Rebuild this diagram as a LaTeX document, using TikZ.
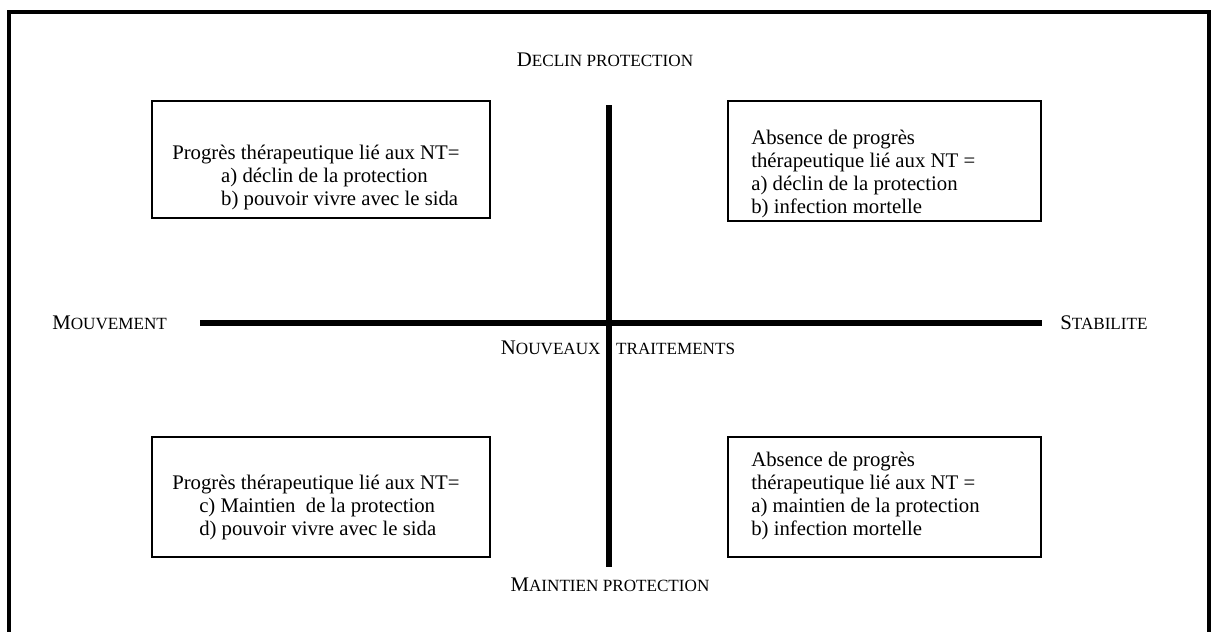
\documentclass[tikz,border=0pt]{standalone}
\usepackage{fontspec}
\setmainfont{Liberation Serif}
\usetikzlibrary{positioning}

\newcommand\lowcaps[1]{{\fontsize{9.9pt}{10pt}\selectfont #1}}

\begin{document}
\begin{tikzpicture}[x=0.578pt,y=-0.578pt,
  quad/.style={draw,line width=1.2pt,inner sep=0pt,minimum width=195.4pt},
  quadtext/.style={anchor=north west,align=left,inner sep=0pt,font=\fontsize{12pt}{13.2pt}\selectfont},
  axislabel/.style={inner sep=0pt,font=\fontsize{12pt}{13pt}\selectfont},
  axis/.style={line width=3.5pt}]
% Page
\useasboundingbox[fill=white] (0,0) rectangle (1212,631);
\draw[line width=2.3pt] (9,12) rectangle (1209,660);

% Locations
\def\Indent{\hspace*{28.3pt}}
\def\IndentLow{\hspace*{15.6pt}}

% Axes
\coordinate (West)  at (200,323);
\coordinate (East)  at (1042,323);
\coordinate (North) at (609,105);
\coordinate (South) at (609,567);
\draw[axis] (West) -- (East);
\draw[axis] (North) -- (South);

% Axis labels
\node[axislabel] (Declin) at (605,60) {D\lowcaps{ECLIN PROTECTION}};
\node[axislabel] (Maintien) at (610,585) {M\lowcaps{AINTIEN PROTECTION}};
\node[axislabel,anchor=west] (Mouvement) at (52,323) {M\lowcaps{OUVEMENT}};
\node[axislabel,anchor=west] (Stabilite) at (1060,323) {S\lowcaps{TABILITE}};
\node[axislabel] (NT) at (618,348) {N\lowcaps{OUVEAUX}\hspace{9pt}\lowcaps{TRAITEMENTS}};

% Quadrants
\node[quad,minimum height=67.6pt] (QuadNW) at (321,159.5) {};
\node[quad,minimum width=180.9pt,minimum height=69.4pt] (QuadNE) at (884.5,161) {};
\node[quad,minimum height=69.4pt] (QuadSW) at (321,497) {};
\node[quad,minimum width=180.9pt,minimum height=69.4pt] (QuadSE) at (884.5,497) {};

\node[quadtext] (TextNW) at ([shift={(21,45)}]QuadNW.north west)
  {Progrès thérapeutique lié aux NT=\\\Indent a) déclin de la protection\\\Indent b) pouvoir vivre avec le sida};
\node[quadtext] (TextNE) at ([shift={(24,30)}]QuadNE.north west)
  {Absence de progrès\\thérapeutique lié aux NT =\\a) déclin de la protection\\b) infection mortelle};
\node[quadtext] (TextSW) at ([shift={(21,39)}]QuadSW.north west)
  {Progrès thérapeutique lié aux NT=\\\IndentLow c) Maintien\ \ de la protection\\\IndentLow d) pouvoir vivre avec le sida};
\node[quadtext] (TextSE) at ([shift={(24,16)}]QuadSE.north west)
  {Absence de progrès\\thérapeutique lié aux NT =\\a) maintien de la protection\\b) infection mortelle};

\end{tikzpicture}
\end{document}
